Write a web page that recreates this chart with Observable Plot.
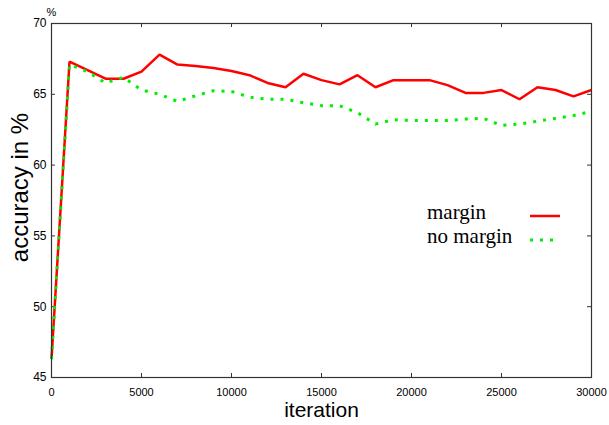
<!DOCTYPE html>
<html><head><meta charset="utf-8">
<script src="https://cdn.jsdelivr.net/npm/d3@7"></script>
<script src="https://cdn.jsdelivr.net/npm/@observablehq/plot@0.6"></script>
<style>
body{margin:0;background:#fff}
#chart{position:relative;width:609px;height:425px}
#legend{position:absolute;left:0;top:0;pointer-events:none}
</style>
</head><body><div id="chart"></div>
<script>
const iterations = [0,1000,2000,3000,4000,5000,6000,7000,8000,9000,10000,11000,12000,13000,14000,15000,16000,17000,18000,19000,20000,21000,22000,23000,24000,25000,26000,27000,28000,29000,30000];
const marginAcc = [46.3,67.3,66.7,66.1,66.1,66.6,67.8,67.1,67.0,66.85,66.65,66.35,65.8,65.5,66.45,66.0,65.7,66.35,65.5,66.0,66.0,66.0,65.65,65.1,65.1,65.3,64.65,65.5,65.3,64.85,65.3];
const noMarginAcc = [46.3,67.1,66.6,65.8,66.2,65.3,65.0,64.5,64.9,65.25,65.2,64.8,64.65,64.65,64.4,64.2,64.2,63.7,62.9,63.2,63.15,63.15,63.15,63.25,63.3,62.8,62.9,63.1,63.3,63.5,63.8];
const xTicks = [0,5000,10000,15000,20000,25000,30000];
const yTicks = [45,50,55,60,65,70];
const seriesNames = ["margin","no margin"];
const seriesColors = ["#ff0000","#00ee00"];
const xLabel = "iteration";
const yLabel = "accuracy in %";
const yUnit = "%";

const W = 609, H = 425, mt = 23, mb = 48, ml = 51, mr = 18;
const pw = W - ml - mr, ph = H - mt - mb;
const marginRows = iterations.map((it, i) => ({iteration: it, acc: marginAcc[i]}));
const noMarginRows = iterations.map((it, i) => ({iteration: it, acc: noMarginAcc[i]}));
const axisColor = "#333";

const chart = Plot.plot({
  width: W, height: H,
  marginTop: mt, marginBottom: mb, marginLeft: ml, marginRight: mr,
  x: {domain: [0, 30000]},
  y: {domain: [45, 70]},
  style: {fontFamily: "'Liberation Sans', Arial, sans-serif", color: "#000", background: "#fff"},
  marks: [
    Plot.axisX(xTicks, {tickSize: 0, tickPadding: 11, fontSize: 11, label: null, tickFormat: d => String(d)}),
    Plot.axisY(yTicks, {tickSize: 0, tickPadding: 5, fontSize: 12, label: null, tickFormat: d => String(d)}),
    Plot.ruleX(xTicks, {insetTop: ph - 4, stroke: axisColor}),
    Plot.ruleX(xTicks, {insetBottom: ph - 4, stroke: axisColor}),
    Plot.ruleY(yTicks, {insetRight: pw - 4, stroke: axisColor}),
    Plot.ruleY(yTicks, {insetLeft: pw - 4, stroke: axisColor}),
    Plot.line(marginRows, {x: "iteration", y: "acc", stroke: seriesColors[0], strokeWidth: 2.5, strokeLinejoin: "miter", strokeLinecap: "butt"}),
    Plot.line(noMarginRows, {x: "iteration", y: "acc", stroke: seriesColors[1], strokeWidth: 3, strokeDasharray: "3 7", strokeLinecap: "butt"}),
    Plot.frame({stroke: axisColor, strokeWidth: 1.2}),
    Plot.text([yLabel], {text: d => d, frameAnchor: "left", rotate: -90, dx: -31, dy: -13, fontSize: 24, textAnchor: "middle", lineAnchor: "middle"}),
    Plot.text([xLabel], {text: d => d, frameAnchor: "bottom", dy: 33, fontSize: 21, textAnchor: "middle", lineAnchor: "middle"}),
    Plot.text([yUnit], {text: d => d, frameAnchor: "top-left", dy: -11, fontSize: 11, textAnchor: "middle", lineAnchor: "middle"})
  ]
});
document.getElementById("chart").appendChild(chart);

// legend overlay
const lg = d3.select("#chart").append("svg").attr("id", "legend").attr("width", W).attr("height", H);
const legendX = 427, legendY0 = 219, legendStep = 24, sampleX0 = 530;
seriesNames.forEach((name, i) => {
  const y = legendY0 + i * legendStep;
  lg.append("text").attr("x", legendX).attr("y", y)
    .attr("font-family", "'Liberation Serif', 'Times New Roman', serif").attr("font-size", 21)
    .attr("fill", "#000").text(name);
  const line = lg.append("line").attr("x1", sampleX0).attr("x2", i === 0 ? sampleX0 + 30 : sampleX0 + 25)
    .attr("y1", y - 3).attr("y2", y - 3).attr("stroke", seriesColors[i]);
  if (i === 0) line.attr("stroke-width", 2.5);
  else line.attr("stroke-width", 3).attr("stroke-dasharray", "3 7");
});
</script>
</body></html>
